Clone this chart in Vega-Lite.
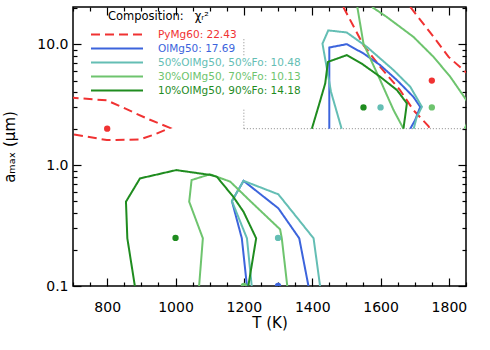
{
  "$schema": "https://vega.github.io/schema/vega-lite/v6.json",
  "width": 393,
  "height": 279,
  "autosize": {"type": "none"},
  "padding": {"left": 73, "top": 7, "right": 24, "bottom": 64},
  "background": "white",
  "config": {
    "view": {"stroke": "black", "strokeWidth": 1.5},
    "axis": {
      "labelFont": "DejaVu Sans", "titleFont": "DejaVu Sans",
      "labelFontSize": 14, "titleFontSize": 15,
      "labelColor": "black", "titleColor": "black", "titleFontWeight": "normal",
      "domain": false, "grid": false, "tickColor": "black", "tickWidth": 1.2
    }
  },
  "datasets": {
    "lines": [
      {"s": "PyMg60: 22.43", "g": "r1", "o": 1, "T": 690, "a": 3.62},
      {"s": "PyMg60: 22.43", "g": "r1", "o": 2, "T": 700, "a": 3.6},
      {"s": "PyMg60: 22.43", "g": "r1", "o": 3, "T": 799, "a": 3.43},
      {"s": "PyMg60: 22.43", "g": "r1", "o": 4, "T": 852, "a": 2.94},
      {"s": "PyMg60: 22.43", "g": "r1", "o": 5, "T": 916, "a": 2.43},
      {"s": "PyMg60: 22.43", "g": "r1", "o": 6, "T": 984, "a": 2.03},
      {"s": "PyMg60: 22.43", "g": "r1", "o": 7, "T": 940, "a": 1.8},
      {"s": "PyMg60: 22.43", "g": "r1", "o": 8, "T": 896, "a": 1.63},
      {"s": "PyMg60: 22.43", "g": "r1", "o": 9, "T": 799, "a": 1.61},
      {"s": "PyMg60: 22.43", "g": "r1", "o": 10, "T": 700, "a": 1.8},
      {"s": "PyMg60: 22.43", "g": "r1", "o": 11, "T": 690, "a": 1.82},
      {"s": "PyMg60: 22.43", "g": "r2", "o": 1, "T": 1491, "a": 20.3},
      {"s": "PyMg60: 22.43", "g": "r2", "o": 2, "T": 1550, "a": 9.81},
      {"s": "PyMg60: 22.43", "g": "r2", "o": 3, "T": 1599, "a": 6.49},
      {"s": "PyMg60: 22.43", "g": "r2", "o": 4, "T": 1657, "a": 4.17},
      {"s": "PyMg60: 22.43", "g": "r2", "o": 5, "T": 1696, "a": 2.85},
      {"s": "PyMg60: 22.43", "g": "r2", "o": 6, "T": 1740, "a": 2.1},
      {"s": "PyMg60: 22.43", "g": "r2", "o": 7, "T": 1745, "a": 2.0},
      {"s": "PyMg60: 22.43", "g": "r3", "o": 1, "T": 1687, "a": 20.3},
      {"s": "PyMg60: 22.43", "g": "r3", "o": 2, "T": 1755, "a": 11.5},
      {"s": "PyMg60: 22.43", "g": "r3", "o": 3, "T": 1799, "a": 7.85},
      {"s": "PyMg60: 22.43", "g": "r3", "o": 4, "T": 1848, "a": 5.91},
      {"s": "PyMg60: 22.43", "g": "r3", "o": 5, "T": 1860, "a": 5.6},

      {"s": "OlMg50: 17.69", "g": "b1", "o": 1, "T": 1209, "a": 0.1},
      {"s": "OlMg50: 17.69", "g": "b1", "o": 2, "T": 1194, "a": 0.248},
      {"s": "OlMg50: 17.69", "g": "b1", "o": 3, "T": 1165, "a": 0.504},
      {"s": "OlMg50: 17.69", "g": "b1", "o": 4, "T": 1199, "a": 0.741},
      {"s": "OlMg50: 17.69", "g": "b1", "o": 5, "T": 1301, "a": 0.439},
      {"s": "OlMg50: 17.69", "g": "b1", "o": 6, "T": 1362, "a": 0.248},
      {"s": "OlMg50: 17.69", "g": "b1", "o": 7, "T": 1389, "a": 0.1},
      {"s": "OlMg50: 17.69", "g": "b2", "o": 1, "T": 1450, "a": 2.0},
      {"s": "OlMg50: 17.69", "g": "b2", "o": 2, "T": 1450, "a": 9.39},
      {"s": "OlMg50: 17.69", "g": "b2", "o": 3, "T": 1501, "a": 10.0},
      {"s": "OlMg50: 17.69", "g": "b2", "o": 4, "T": 1550, "a": 8.38},
      {"s": "OlMg50: 17.69", "g": "b2", "o": 5, "T": 1599, "a": 6.71},
      {"s": "OlMg50: 17.69", "g": "b2", "o": 6, "T": 1648, "a": 5.04},
      {"s": "OlMg50: 17.69", "g": "b2", "o": 7, "T": 1696, "a": 3.67},
      {"s": "OlMg50: 17.69", "g": "b2", "o": 8, "T": 1716, "a": 3.03},
      {"s": "OlMg50: 17.69", "g": "b2", "o": 9, "T": 1701, "a": 2.35},
      {"s": "OlMg50: 17.69", "g": "b2", "o": 10, "T": 1687, "a": 2.0},

      {"s": "50%OlMg50, 50%Fo: 10.48", "g": "c1", "o": 1, "T": 1223, "a": 0.1},
      {"s": "50%OlMg50, 50%Fo: 10.48", "g": "c1", "o": 2, "T": 1209, "a": 0.248},
      {"s": "50%OlMg50, 50%Fo: 10.48", "g": "c1", "o": 3, "T": 1165, "a": 0.504},
      {"s": "50%OlMg50, 50%Fo: 10.48", "g": "c1", "o": 4, "T": 1199, "a": 0.741},
      {"s": "50%OlMg50, 50%Fo: 10.48", "g": "c1", "o": 5, "T": 1301, "a": 0.573},
      {"s": "50%OlMg50, 50%Fo: 10.48", "g": "c1", "o": 6, "T": 1404, "a": 0.248},
      {"s": "50%OlMg50, 50%Fo: 10.48", "g": "c1", "o": 7, "T": 1423, "a": 0.1},
      {"s": "50%OlMg50, 50%Fo: 10.48", "g": "c2", "o": 1, "T": 1486, "a": 2.0},
      {"s": "50%OlMg50, 50%Fo: 10.48", "g": "c2", "o": 2, "T": 1455, "a": 4.03},
      {"s": "50%OlMg50, 50%Fo: 10.48", "g": "c2", "o": 3, "T": 1430, "a": 10.1},
      {"s": "50%OlMg50, 50%Fo: 10.48", "g": "c2", "o": 4, "T": 1447, "a": 13.0},
      {"s": "50%OlMg50, 50%Fo: 10.48", "g": "c2", "o": 5, "T": 1501, "a": 12.5},
      {"s": "50%OlMg50, 50%Fo: 10.48", "g": "c2", "o": 6, "T": 1560, "a": 9.5},
      {"s": "50%OlMg50, 50%Fo: 10.48", "g": "c2", "o": 7, "T": 1638, "a": 6.1},
      {"s": "50%OlMg50, 50%Fo: 10.48", "g": "c2", "o": 8, "T": 1687, "a": 4.44},
      {"s": "50%OlMg50, 50%Fo: 10.48", "g": "c2", "o": 9, "T": 1721, "a": 3.03},
      {"s": "50%OlMg50, 50%Fo: 10.48", "g": "c2", "o": 10, "T": 1706, "a": 2.51},
      {"s": "50%OlMg50, 50%Fo: 10.48", "g": "c2", "o": 11, "T": 1697, "a": 2.0},

      {"s": "30%OlMg50, 70%Fo: 10.13", "g": "l1", "o": 1, "T": 1069, "a": 0.1},
      {"s": "30%OlMg50, 70%Fo: 10.13", "g": "l1", "o": 2, "T": 1080, "a": 0.248},
      {"s": "30%OlMg50, 70%Fo: 10.13", "g": "l1", "o": 3, "T": 1040, "a": 0.498},
      {"s": "30%OlMg50, 70%Fo: 10.13", "g": "l1", "o": 4, "T": 1047, "a": 0.752},
      {"s": "30%OlMg50, 70%Fo: 10.13", "g": "l1", "o": 5, "T": 1101, "a": 0.84},
      {"s": "30%OlMg50, 70%Fo: 10.13", "g": "l1", "o": 6, "T": 1160, "a": 0.73},
      {"s": "30%OlMg50, 70%Fo: 10.13", "g": "l1", "o": 7, "T": 1220, "a": 0.5},
      {"s": "30%OlMg50, 70%Fo: 10.13", "g": "l1", "o": 8, "T": 1306, "a": 0.294},
      {"s": "30%OlMg50, 70%Fo: 10.13", "g": "l1", "o": 9, "T": 1311, "a": 0.248},
      {"s": "30%OlMg50, 70%Fo: 10.13", "g": "l1", "o": 10, "T": 1327, "a": 0.1},
      {"s": "30%OlMg50, 70%Fo: 10.13", "g": "l2", "o": 1, "T": 1532, "a": 20.3},
      {"s": "30%OlMg50, 70%Fo: 10.13", "g": "l2", "o": 2, "T": 1550, "a": 10.1},
      {"s": "30%OlMg50, 70%Fo: 10.13", "g": "l2", "o": 3, "T": 1599, "a": 5.04},
      {"s": "30%OlMg50, 70%Fo: 10.13", "g": "l2", "o": 4, "T": 1638, "a": 2.85},
      {"s": "30%OlMg50, 70%Fo: 10.13", "g": "l2", "o": 5, "T": 1667, "a": 2.0},
      {"s": "30%OlMg50, 70%Fo: 10.13", "g": "l3", "o": 1, "T": 1575, "a": 20.3},
      {"s": "30%OlMg50, 70%Fo: 10.13", "g": "l3", "o": 2, "T": 1618, "a": 16.8},
      {"s": "30%OlMg50, 70%Fo: 10.13", "g": "l3", "o": 3, "T": 1696, "a": 11.5},
      {"s": "30%OlMg50, 70%Fo: 10.13", "g": "l3", "o": 4, "T": 1755, "a": 7.85},
      {"s": "30%OlMg50, 70%Fo: 10.13", "g": "l3", "o": 5, "T": 1804, "a": 5.37},
      {"s": "30%OlMg50, 70%Fo: 10.13", "g": "l3", "o": 6, "T": 1848, "a": 3.55},
      {"s": "30%OlMg50, 70%Fo: 10.13", "g": "l3", "o": 7, "T": 1870, "a": 2.8},
      {"s": "30%OlMg50, 70%Fo: 10.13", "g": "l3", "o": 8, "T": 1846, "a": 2.0},

      {"s": "10%OlMg50, 90%Fo: 14.18", "g": "d1", "o": 1, "T": 881, "a": 0.1},
      {"s": "10%OlMg50, 90%Fo: 14.18", "g": "d1", "o": 2, "T": 859, "a": 0.248},
      {"s": "10%OlMg50, 90%Fo: 14.18", "g": "d1", "o": 3, "T": 855, "a": 0.498},
      {"s": "10%OlMg50, 90%Fo: 14.18", "g": "d1", "o": 4, "T": 896, "a": 0.776},
      {"s": "10%OlMg50, 90%Fo: 14.18", "g": "d1", "o": 5, "T": 1002, "a": 0.909},
      {"s": "10%OlMg50, 90%Fo: 14.18", "g": "d1", "o": 6, "T": 1101, "a": 0.83},
      {"s": "10%OlMg50, 90%Fo: 14.18", "g": "d1", "o": 7, "T": 1121, "a": 0.8},
      {"s": "10%OlMg50, 90%Fo: 14.18", "g": "d1", "o": 8, "T": 1169, "a": 0.547},
      {"s": "10%OlMg50, 90%Fo: 14.18", "g": "d1", "o": 9, "T": 1199, "a": 0.411},
      {"s": "10%OlMg50, 90%Fo: 14.18", "g": "d1", "o": 10, "T": 1236, "a": 0.248},
      {"s": "10%OlMg50, 90%Fo: 14.18", "g": "d1", "o": 11, "T": 1213, "a": 0.1},
      {"s": "10%OlMg50, 90%Fo: 14.18", "g": "d2", "o": 1, "T": 1399, "a": 2.0},
      {"s": "10%OlMg50, 90%Fo: 14.18", "g": "d2", "o": 2, "T": 1418, "a": 3.03},
      {"s": "10%OlMg50, 90%Fo: 14.18", "g": "d2", "o": 3, "T": 1438, "a": 4.73},
      {"s": "10%OlMg50, 90%Fo: 14.18", "g": "d2", "o": 4, "T": 1446, "a": 7.14},
      {"s": "10%OlMg50, 90%Fo: 14.18", "g": "d2", "o": 5, "T": 1501, "a": 8.11},
      {"s": "10%OlMg50, 90%Fo: 14.18", "g": "d2", "o": 6, "T": 1545, "a": 6.9},
      {"s": "10%OlMg50, 90%Fo: 14.18", "g": "d2", "o": 7, "T": 1599, "a": 5.37},
      {"s": "10%OlMg50, 90%Fo: 14.18", "g": "d2", "o": 8, "T": 1648, "a": 4.17},
      {"s": "10%OlMg50, 90%Fo: 14.18", "g": "d2", "o": 9, "T": 1677, "a": 3.24},
      {"s": "10%OlMg50, 90%Fo: 14.18", "g": "d2", "o": 10, "T": 1667, "a": 2.0}
    ],
    "pts": [
      {"s": "PyMg60: 22.43", "T": 800, "a": 2.0},
      {"s": "PyMg60: 22.43", "T": 1750, "a": 5.0},
      {"s": "OlMg50: 17.69", "T": 1300, "a": 0.1},
      {"s": "50%OlMg50, 50%Fo: 10.48", "T": 1300, "a": 0.25},
      {"s": "50%OlMg50, 50%Fo: 10.48", "T": 1600, "a": 3.0},
      {"s": "30%OlMg50, 70%Fo: 10.13", "T": 1200, "a": 0.1},
      {"s": "30%OlMg50, 70%Fo: 10.13", "T": 1750, "a": 3.0},
      {"s": "10%OlMg50, 90%Fo: 14.18", "T": 1000, "a": 0.25},
      {"s": "10%OlMg50, 90%Fo: 14.18", "T": 1550, "a": 3.0}
    ],
    "box": [
      {"T": 1200, "T2": 1850, "a": 2.0, "a2": 2.0},
      {"T": 1200, "T2": 1200, "a": 2.0, "a2": 2.96},
      {"T": 1200, "T2": 1200, "a": 8.1, "a2": 11.4}
    ]
  },
  "layer": [
    {
      "data": {"name": "box"},
      "mark": {"type": "rule", "color": "#888888", "strokeWidth": 1, "strokeDash": [1, 2]},
      "encoding": {
        "x": {"field": "T", "type": "quantitative", "axis": null},
        "x2": {"field": "T2"},
        "y": {"field": "a", "type": "quantitative", "axis": null},
        "y2": {"field": "a2"}
      }
    },
    {
      "data": {"name": "lines"},
      "mark": {"type": "line", "strokeWidth": 2, "clip": true},
      "encoding": {
        "x": {
          "field": "T", "type": "quantitative",
          "scale": {"domain": [700, 1850], "nice": false, "zero": false},
          "axis": {
            "orient": "bottom", "title": "T (K)", "titlePadding": -3,
            "values": [700,750,800,850,900,950,1000,1050,1100,1150,1200,1250,1300,1350,1400,1450,1500,1550,1600,1650,1700,1750,1800,1850],
            "format": "d",
            "labelExpr": "datum.value % 200 == 0 ? datum.label : ''",
            "tickSize": {"condition": {"test": "datum.value % 200 == 0", "value": -8}, "value": -4},
            "labelPadding": 22, "labelFlush": false, "labelOverlap": false
          }
        },
        "y": {
          "field": "a", "type": "quantitative",
          "scale": {"type": "log", "domain": [0.1, 20.3], "nice": false},
          "axis": {
            "orient": "left", "title": "aₘₐₓ (μm)", "titlePadding": 19,
            "values": [0.1,0.2,0.3,0.4,0.5,0.6,0.7,0.8,0.9,1,2,3,4,5,6,7,8,9,10,20],
            "labelExpr": "datum.value == 0.1 ? '0.1' : datum.value == 1 ? '1.0' : datum.value == 10 ? '10.0' : ''",
            "tickSize": {"condition": {"test": "datum.value == 0.1 || datum.value == 1 || datum.value == 10", "value": -8}, "value": -4},
            "labelPadding": 13, "labelFlush": false, "labelOverlap": false
          }
        },
        "color": {
          "field": "s", "type": "nominal",
          "scale": {
            "domain": ["PyMg60: 22.43", "OlMg50: 17.69", "50%OlMg50, 50%Fo: 10.48", "30%OlMg50, 70%Fo: 10.13", "10%OlMg50, 90%Fo: 14.18"],
            "range": ["#f03232", "#3c64dc", "#64beb4", "#6ec46e", "#1f8c1f"]
          },
          "legend": {
            "orient": "none", "legendX": 17, "legendY": 4,
            "title": "Composition:\u00a0\u00a0\u00a0χᵣ²",
            "titleFont": "DejaVu Sans", "titleFontSize": 11.5, "titleFontWeight": "normal", "titleColor": "black",
            "titlePadding": 5,
            "labelFont": "DejaVu Sans", "labelFontSize": 10.5, "labelOffset": 14,
            "symbolType": "stroke", "symbolSize": 2704, "symbolStrokeWidth": 2,
            "clipHeight": 14, "rowPadding": 0, "padding": 0,
            "encode": {
              "labels": {"update": {"fill": {"scale": "color", "field": "value"}}},
              "title": {"update": {"dx": {"value": 18}}}
            }
          }
        },
        "strokeDash": {
          "field": "s", "type": "nominal",
          "scale": {
            "domain": ["PyMg60: 22.43", "OlMg50: 17.69", "50%OlMg50, 50%Fo: 10.48", "30%OlMg50, 70%Fo: 10.13", "10%OlMg50, 90%Fo: 14.18"],
            "range": [[9, 5], [1, 0], [1, 0], [1, 0], [1, 0]]
          },
          "legend": {
            "orient": "none", "legendX": 17, "legendY": 4,
            "title": "Composition:\u00a0\u00a0\u00a0χᵣ²"
          }
        },
        "detail": {"field": "g"},
        "order": {"field": "o", "type": "quantitative"}
      }
    },
    {
      "data": {"name": "pts"},
      "mark": {"type": "circle", "size": 40, "opacity": 1, "clip": true},
      "encoding": {
        "x": {
          "field": "T", "type": "quantitative",
          "axis": {
            "orient": "top", "title": null, "labels": false,
            "values": [700,750,800,850,900,950,1000,1050,1100,1150,1200,1250,1300,1350,1400,1450,1500,1550,1600,1650,1700,1750,1800,1850],
            "tickSize": {"condition": {"test": "datum.value % 200 == 0", "value": -8}, "value": -4}
          }
        },
        "y": {
          "field": "a", "type": "quantitative",
          "axis": {
            "orient": "right", "title": null, "labels": false,
            "values": [0.1,0.2,0.3,0.4,0.5,0.6,0.7,0.8,0.9,1,2,3,4,5,6,7,8,9,10,20],
            "tickSize": {"condition": {"test": "datum.value == 0.1 || datum.value == 1 || datum.value == 10", "value": -8}, "value": -4}
          }
        },
        "color": {"field": "s", "type": "nominal", "legend": null}
      }
    }
  ],
  "resolve": {"axis": {"x": "independent", "y": "independent"}}
}
